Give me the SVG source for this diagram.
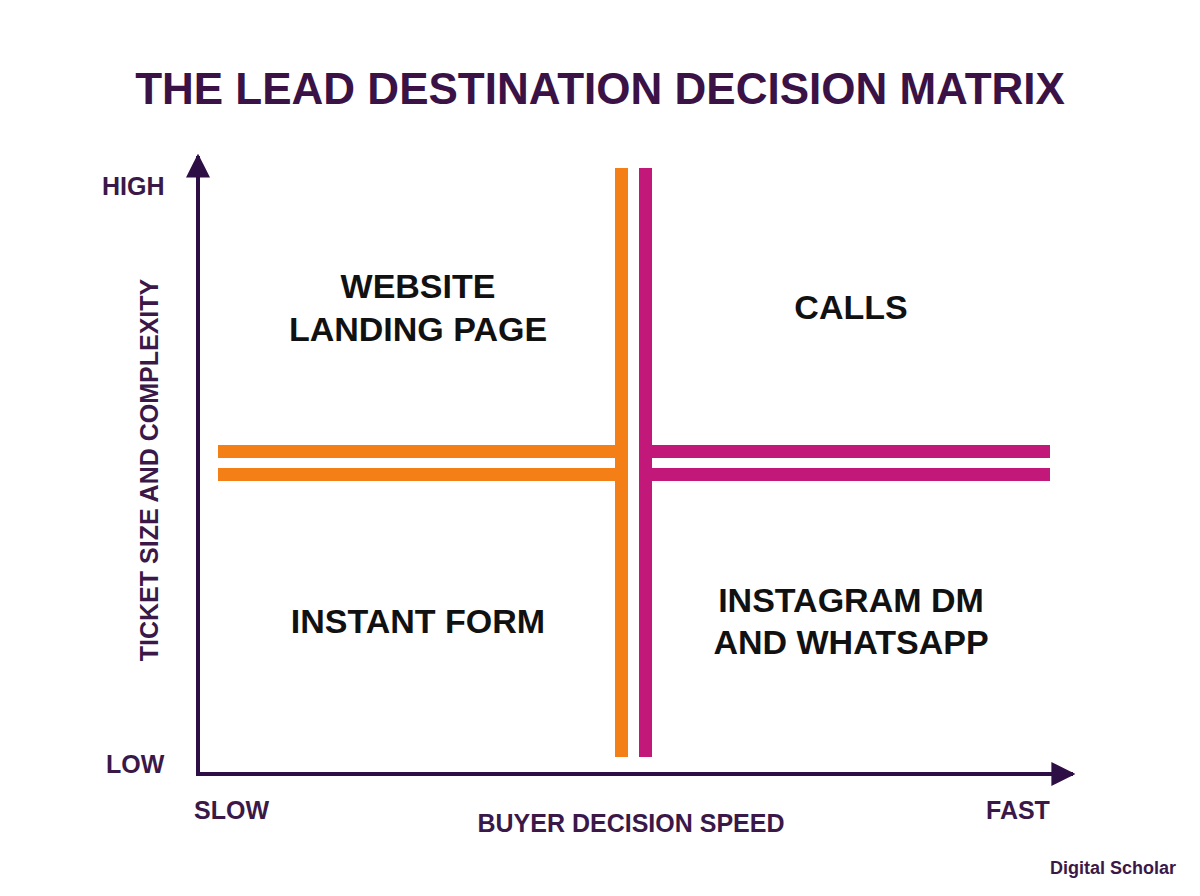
<svg xmlns="http://www.w3.org/2000/svg" width="1200" height="896" viewBox="0 0 1200 896">
<style>
.t{font-family:"Liberation Sans",Arial,sans-serif;font-weight:bold}
.q{font-size:34px;fill:#111;text-anchor:middle}
.ax{font-size:25px;fill:#3a1848}
.o{fill:#f57f17}
.m{fill:#c2187a}
</style>
<defs>
<marker id="ah" viewBox="0 0 10 10" refX="9" refY="5" markerWidth="6" markerHeight="6" orient="auto" markerUnits="strokeWidth"><path d="M0,0L10,5L0,10Z" fill="#2d0f45"/></marker>
</defs>
<rect width="1200" height="896" fill="#fff"/>
<text class="t" x="600" y="104" font-size="44" fill="#3a1246" text-anchor="middle">THE LEAD DESTINATION DECISION MATRIX</text>
<g id="connectors">
<line x1="198" y1="776" x2="198" y2="156" stroke="#2d0f45" stroke-width="4" marker-end="url(#ah)"/>
<line x1="196" y1="774" x2="1073" y2="774" stroke="#2d0f45" stroke-width="4" marker-end="url(#ah)"/>
</g>
<g id="dividers">
<rect class="o" x="615" y="168" width="13" height="589"/>
<rect class="o" x="218" y="445" width="410" height="13"/>
<rect class="o" x="218" y="468" width="410" height="13"/>
<rect class="m" x="639" y="168" width="13" height="589"/>
<rect class="m" x="639" y="445" width="411" height="13"/>
<rect class="m" x="639" y="468" width="411" height="13"/>
</g>
<g id="q1"><text class="t q" x="418" y="298">WEBSITE</text><text class="t q" x="418" y="341">LANDING PAGE</text></g>
<g id="q2"><text class="t q" x="851" y="319">CALLS</text></g>
<g id="q3"><text class="t q" x="418" y="633">INSTANT FORM</text></g>
<g id="q4"><text class="t q" x="851" y="612">INSTAGRAM DM</text><text class="t q" x="851" y="654">AND WHATSAPP</text></g>
<g id="labels">
<text class="t ax" x="102" y="195">HIGH</text>
<text class="t ax" x="106" y="773">LOW</text>
<text class="t ax" x="194" y="819">SLOW</text>
<text class="t ax" x="986" y="819">FAST</text>
<text class="t ax" x="631" y="832" font-size="27" text-anchor="middle">BUYER DECISION SPEED</text>
<text class="t ax" transform="translate(158,470) rotate(-90)" font-size="27" text-anchor="middle">TICKET SIZE AND COMPLEXITY</text>
<text class="t" x="1176" y="874" font-size="18" fill="#3a1848" text-anchor="end">Digital Scholar</text>
</g>
</svg>
